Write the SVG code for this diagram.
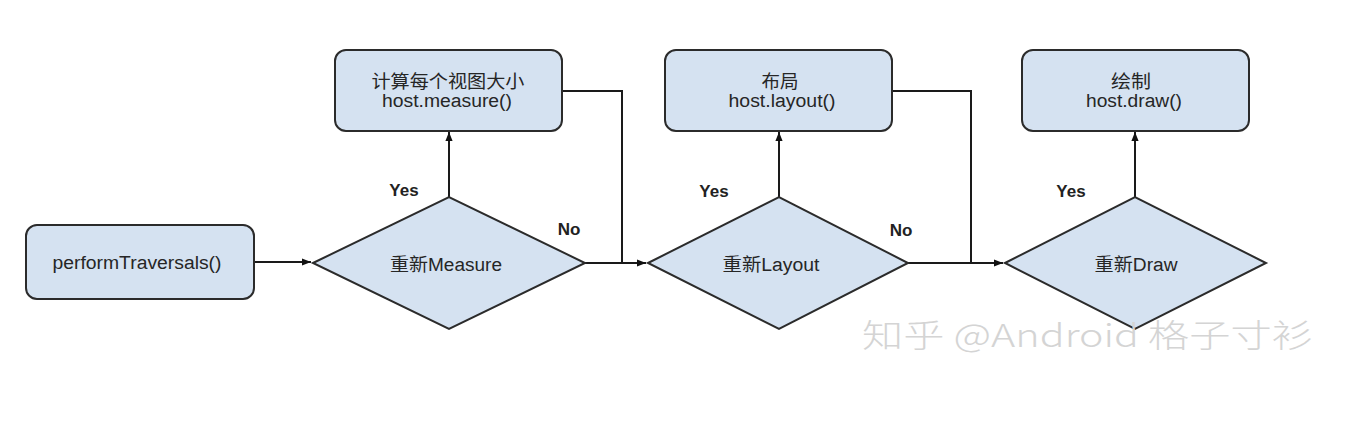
<svg xmlns="http://www.w3.org/2000/svg" width="1350" height="438" viewBox="0 0 1350 438">
<defs>
<marker id="arr" viewBox="0 0 10 10" refX="10" refY="5" markerWidth="9" markerHeight="9" markerUnits="userSpaceOnUse" orient="auto"><path d="M0,1 L10,5 L0,9 Z" fill="#111"/></marker>
<style>
.box{fill:#d5e2f1;stroke:#2b2b2b;stroke-width:2}
.t{font-family:"Liberation Sans","Noto Sans CJK SC",sans-serif;font-size:18px;fill:#262626;text-anchor:middle}
.lbl{font-family:"Liberation Sans",sans-serif;font-size:17px;font-weight:bold;fill:#222;text-anchor:middle}
.c{fill:none;stroke:#1a1a1a;stroke-width:2}
.wm{font-family:"Noto Sans CJK SC",sans-serif;font-size:32px;font-weight:300;fill:#d4d4d4}
</style>
</defs>
<rect width="1350" height="438" fill="#fff"/>
<g id="connectors">
<path class="c" d="M254,262 H311" marker-end="url(#arr)"/>
<path class="c" d="M449,197 V132" marker-end="url(#arr)"/>
<path class="c" d="M562,91 H622 V263"/>
<path class="c" d="M585,263 H646" marker-end="url(#arr)"/>
<path class="c" d="M779,197 V132" marker-end="url(#arr)"/>
<path class="c" d="M892,91 H971 V263"/>
<path class="c" d="M908,263 H1003" marker-end="url(#arr)"/>
<path class="c" d="M1135,197 V132" marker-end="url(#arr)"/>
</g>
<g id="labels">
<text class="lbl" x="404" y="196">Yes</text>
<text class="lbl" x="569" y="235">No</text>
<text class="lbl" x="714" y="197">Yes</text>
<text class="lbl" x="901" y="236">No</text>
<text class="lbl" x="1071" y="197">Yes</text>
</g>
<g id="n-perform">
<rect class="box" x="26" y="225" width="228" height="74" rx="11"/>
<text class="t" x="137" y="269" textLength="169" lengthAdjust="spacingAndGlyphs">performTraversals()</text>
</g>
<g id="n-measure-q">
<path class="box" d="M313,263 L449,197 L585,263 L449,329 Z"/>
<text class="t" x="446" y="271" textLength="112" lengthAdjust="spacingAndGlyphs">重新Measure</text>
</g>
<g id="n-measure">
<rect class="box" x="335" y="50" width="227" height="81" rx="11"/>
<text class="t" x="448" y="88" textLength="153" lengthAdjust="spacingAndGlyphs">计算每个视图大小</text>
<text class="t" x="447" y="107" textLength="130" lengthAdjust="spacingAndGlyphs">host.measure()</text>
</g>
<g id="n-layout-q">
<path class="box" d="M648,263 L779,197 L908,263 L779,329 Z"/>
<text class="t" x="771" y="271" textLength="97" lengthAdjust="spacingAndGlyphs">重新Layout</text>
</g>
<g id="n-layout">
<rect class="box" x="665" y="50" width="227" height="81" rx="11"/>
<text class="t" x="780" y="88" textLength="37" lengthAdjust="spacingAndGlyphs">布局</text>
<text class="t" x="782" y="107" textLength="107" lengthAdjust="spacingAndGlyphs">host.layout()</text>
</g>
<g id="n-draw-q">
<path class="box" d="M1005,263 L1135,197 L1266,263 L1135,329 Z"/>
<text class="t" x="1136" y="271" textLength="83" lengthAdjust="spacingAndGlyphs">重新Draw</text>
</g>
<g id="n-draw">
<rect class="box" x="1022" y="50" width="227" height="81" rx="11"/>
<text class="t" x="1131" y="88" textLength="40" lengthAdjust="spacingAndGlyphs">绘制</text>
<text class="t" x="1134" y="107" textLength="96" lengthAdjust="spacingAndGlyphs">host.draw()</text>
</g>
<text class="wm" x="862" y="347" textLength="451" lengthAdjust="spacingAndGlyphs">知乎 @Android 格子寸衫</text>
</svg>
